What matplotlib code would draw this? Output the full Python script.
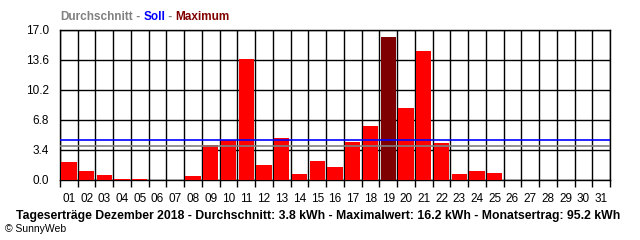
import matplotlib.pyplot as plt
import numpy as np

days = [f"{d:02d}" for d in range(1, 32)]
ertrag = [2.0, 1.05, 0.6, 0.15, 0.15, 0.0, 0.0, 0.4, 4.0, 4.5, 13.75, 1.75, 4.8, 0.7,
          2.2, 1.5, 4.35, 6.15, 16.2, 8.2, 14.65, 4.25, 0.7, 1.05, 0.8,
          0, 0, 0, 0, 0, 0]
durchschnitt = 3.8
soll = 4.5
y_ticks = [0.0, 3.4, 6.8, 10.2, 13.6, 17.0]

plt.rcParams['font.family'] = ['Liberation Sans', 'DejaVu Sans']

fig = plt.figure(figsize=(6.4, 2.4), dpi=100)
ax = fig.add_axes([60 / 640, 60 / 240, 550 / 640, 150 / 240])

x = np.arange(len(days))
max_i = int(np.argmax(ertrag))
colors = ['#7F0000' if i == max_i else '#FF0000' for i in range(len(days))]
ax.bar(x, ertrag, width=0.86, color=colors, zorder=3)

ax.axhline(soll, color='#0000FF', lw=1.2, zorder=4)
ax.axhline(durchschnitt, color='#808080', lw=1.2, zorder=4)

ax.set_xlim(-0.5, len(days) - 0.5)
ax.set_ylim(0, 17.0)

# gridlines on day boundaries and y ticks
for b in np.arange(-0.5, len(days), 1.0):
    ax.axvline(b, color='black', lw=1.0, zorder=2)
for yt in y_ticks:
    ax.axhline(yt, color='black', lw=1.0, zorder=2)

ax.set_yticks(y_ticks)
ax.set_yticklabels([f"{v:.1f}" for v in y_ticks], fontsize=8.5)
ax.tick_params(axis='y', length=0, pad=8)

ax.set_xticks(np.arange(-0.5, len(days), 1.0), minor=False)
ax.set_xticklabels([])
ax.tick_params(axis='x', which='major', length=5, width=1, color='black', direction='out')
ax.set_xticks(x, minor=True)
ax.set_xticklabels(days, minor=True, fontsize=8.5)
ax.tick_params(axis='x', which='minor', length=0, pad=9)

for s in ax.spines.values():
    s.set_color('black')
    s.set_linewidth(1.0)

# header legend
renderer = fig.canvas.get_renderer()
parts = [("Durchschnitt", '#808080'), ("\u00a0-\u00a0", '#808080'), ("Soll", '#0000FF'),
         ("\u00a0-\u00a0", '#808080'), ("Maximum", '#800000')]
xpos = 60
for txt, col in parts:
    tt = fig.text(xpos / 640, 1 - 17 / 240, txt, color=col, fontsize=8.5,
                  fontweight='bold', va='center', ha='left')
    bb = tt.get_window_extent(renderer=renderer)
    xpos += bb.width

fig.text(318 / 640, 1 - 216 / 240,
         "Tageserträge Dezember 2018 - Durchschnitt: 3.8 kWh - Maximalwert: 16.2 kWh - Monatsertrag: 95.2 kWh",
         fontsize=8.8, fontweight='bold', ha='center', va='center')
fig.text(5 / 640, 1 - 229 / 240, "© SunnyWeb", fontsize=7.5, ha='left', va='center')

fig.savefig('out.png', dpi=100)
